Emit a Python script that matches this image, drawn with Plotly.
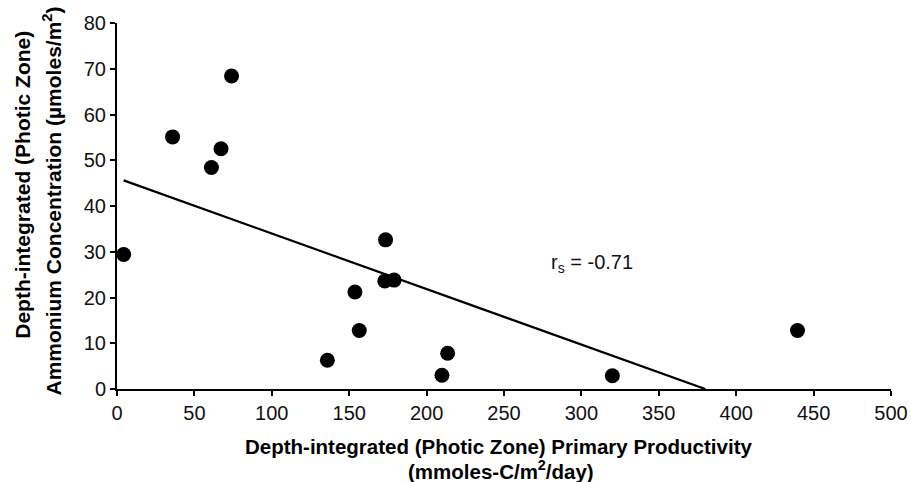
import plotly.graph_objects as go

# Data
productivity = [4.3, 35.9, 61, 67.2, 74, 135.9, 153.7, 156.5, 173.5, 173, 179, 209.9, 213.6, 320, 439.6]
ammonium = [29.4, 55.1, 48.4, 52.5, 68.4, 6.3, 21.2, 12.8, 32.6, 23.6, 23.8, 3.0, 7.8, 2.9, 12.8]

fit_x = [4.3, 380]
fit_y = [45.6, 0]

x_ticks = [0, 50, 100, 150, 200, 250, 300, 350, 400, 450, 500]
y_ticks = [0, 10, 20, 30, 40, 50, 60, 70, 80]

FONT = "Liberation Sans, Arial, Helvetica, sans-serif"

fig = go.Figure()
fig.add_trace(go.Scatter(x=fit_x, y=fit_y, mode="lines",
                         line=dict(color="black", width=2.2), showlegend=False))
fig.add_trace(go.Scatter(x=productivity, y=ammonium, mode="markers",
                         marker=dict(color="black", size=15), showlegend=False,
                         cliponaxis=False))

fig.update_layout(
    width=911, height=482,
    margin=dict(l=117, r=3, t=23, b=93),
    paper_bgcolor="white", plot_bgcolor="white",
    font=dict(family=FONT, color="black", size=20),
    xaxis=dict(range=[0, 500], tickvals=x_ticks, showgrid=False, zeroline=False,
               showline=True, linecolor="black", linewidth=2,
               ticks="outside", ticklen=5, tickwidth=2, tickcolor="black",
               ticklabeloverflow="allow",
               tickfont=dict(size=20, color="#111")),
    yaxis=dict(range=[0, 80], tickvals=y_ticks, showgrid=False, zeroline=False,
               showline=True, linecolor="black", linewidth=2,
               ticks="outside", ticklen=5, tickwidth=2, tickcolor="black",
               tickfont=dict(size=20, color="#111")),
)

annots = [
    dict(text="r<sub>s</sub> = -0.71", x=307, y=27.5, xref="x", yref="y",
         showarrow=False, font=dict(size=20, color="#111")),
    dict(text="<b>Depth-integrated (Photic Zone) Primary Productivity</b>",
         x=0.4935, y=-0.158, xref="paper", yref="paper", showarrow=False,
         xanchor="center", yanchor="middle", font=dict(size=20.5)),
    dict(text="<b>(mmoles-C/m<sup>2</sup>/day)</b>",
         x=0.4967, y=-0.222, xref="paper", yref="paper", showarrow=False,
         xanchor="center", yanchor="middle", font=dict(size=20.5)),
    dict(text="<b>Depth-integrated (Photic Zone)</b>",
         x=-0.1232, y=0.557, xref="paper", yref="paper", showarrow=False,
         textangle=-90, xanchor="center", yanchor="middle", font=dict(size=21)),
    dict(text="<b>Ammonium Concentration (µmoles/m<sup>2</sup>)</b>",
         x=-0.0845, y=0.514, xref="paper", yref="paper", showarrow=False,
         textangle=-90, xanchor="center", yanchor="middle", font=dict(size=21)),
]
fig.update_layout(annotations=annots)

fig.write_html("out.html")
